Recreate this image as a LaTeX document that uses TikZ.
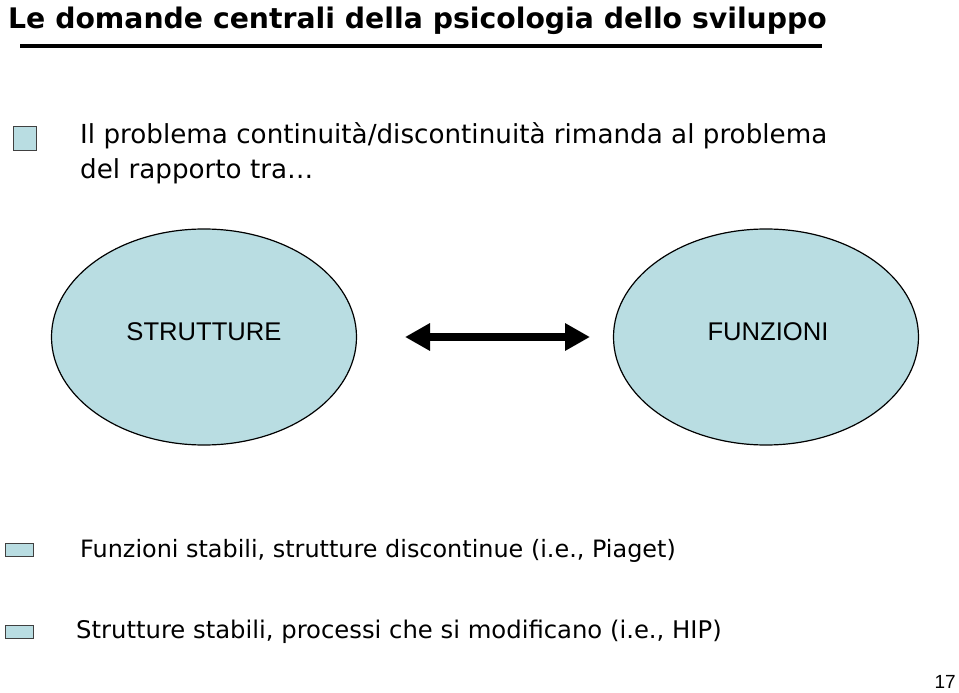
\documentclass[tikz,border=0pt]{standalone}
\usepackage{fontspec}
\setmainfont{DejaVu Sans}
\newfontfamily\arialf{Liberation Sans}
\usetikzlibrary{arrows.meta,shapes.geometric}
\definecolor{lblue}{HTML}{B9DDE2}
\definecolor{boxedge}{HTML}{404040}
\tikzset{
  bubble/.style={ellipse, draw=black, line width=1.2pt, fill=lblue, minimum width=305pt, minimum height=216pt, inner sep=0pt},
  bul/.style={draw=boxedge, line width=1pt, fill=lblue},
  txt/.style={anchor=base west, inner sep=0pt, font=\fontsize{26.2}{30}\selectfont},
  btxt/.style={anchor=base west, inner sep=0pt, font=\fontsize{23.9}{28}\selectfont},
  lbl/.style={font=\arialf\fontsize{25.6}{30}\selectfont, inner sep=0pt}
}
\begin{document}
\begin{tikzpicture}[x=1pt,y=-1pt]
\useasboundingbox (0,0) rectangle (959,693);
\node[anchor=base west, inner sep=0pt, font=\bfseries\fontsize{28.3}{32}\selectfont] (title) at (8,29) {Le domande centrali della psicologia dello sviluppo};
\coordinate (ul1) at (20,46);
\coordinate (ul2) at (822,46);
\draw[line width=4pt] (ul1) -- (ul2);
\draw[bul] (13,126) rectangle (36,150);
\node[txt] (l1) at (80,143) {Il problema continuità/discontinuità rimanda al problema};
\node[txt] (l2) at (80,178) {del rapporto tra…};
\node[bubble] (s) at (204,337) {};
\node[bubble] (f) at (766,337) {};
\node[lbl] at (204,332) {STRUTTURE};
\node[lbl] at (768,332) {FUNZIONI};
\coordinate (a1) at (405,337);
\coordinate (a2) at (590,337);
\draw[line width=8pt, {Triangle[length=25pt,width=26pt]}-{Triangle[length=25pt,width=26pt]}] (a1) -- (a2);
\draw[bul] (5,543) rectangle (33,556);
\node[btxt] (b1) at (80,557) {Funzioni stabili, strutture discontinue (i.e., Piaget)};
\draw[bul] (5,625) rectangle (33,638);
\node[btxt,font=\fontsize{24.3}{28}\selectfont] (b2) at (76,638) {Strutture stabili, processi che si modificano (i.e., HIP)};
\node[anchor=base east, inner sep=0pt, font=\arialf\fontsize{19}{22}\selectfont] (pg) at (956,688) {17};
\end{tikzpicture}
\end{document}
